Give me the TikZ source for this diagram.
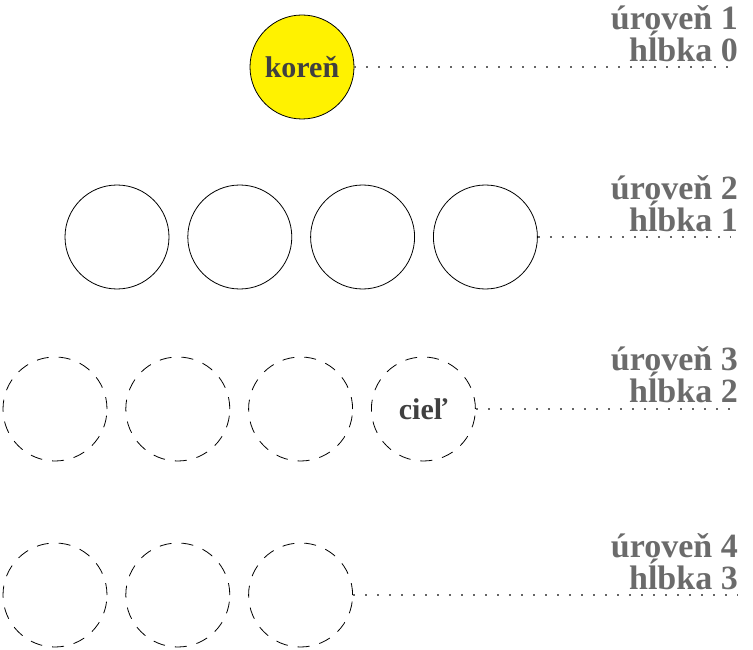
\documentclass[tikz,border=0pt]{standalone}
\usepackage{fontspec}
\setmainfont{Liberation Serif}
\usepackage{tikz}
\usetikzlibrary{positioning}

\begin{document}
\begin{tikzpicture}[
		x=1pt, y=1pt,
		node distance=18pt,                 % medzera medzi vrcholmi
		vrchol/.style={
			draw,
			circle,
			minimum size=104pt,
			inner sep=0pt,
			line width=0.8pt,
			font=\bfseries\fontsize{30}{30}\selectfont,
			text=black!75},
		novy/.style={vrchol, dash pattern=on 12pt off 10pt},
		uroven/.style={
			align=right,
			anchor=south east,
			inner sep=0pt,
			text=black!58,
			font=\bfseries\fontsize{34}{30}\selectfont},
		spoj/.style={black!60, line width=2pt, dash pattern=on 2pt off 10pt}
		]
		\useasboundingbox (0,0) rectangle (753,-650);
		
		% koren (hlbka 0)
		\node[vrchol, fill=yellow] (k) at (302,-67) {koreň};
		
		% hlbka 1
		\node[vrchol] (a1) at (117,-237) {};
		\node[vrchol] (a2) [right=of a1] {};
		\node[vrchol] (a3) [right=of a2] {};
		\node[vrchol] (a4) [right=of a3] {};
		
		% hlbka 2
		\node[novy] (b1) at (55,-409) {};
		\node[novy] (b2) [right=of b1] {};
		\node[novy] (b3) [right=of b2] {};
		\node[novy] (b4) [right=of b3] {cieľ};
		
		% hlbka 3
		\node[novy] (c1) at (55,-595) {};
		\node[novy] (c2) [right=of c1] {};
		\node[novy] (c3) [right=of c2] {};
		
		% konce bodkovanych ciar
		\coordinate (e1) at (730,-67);
		\coordinate (e2) at (730,-237);
		\coordinate (e3) at (738,-409);
		\coordinate (e4) at (738,-595);
		
		\draw[spoj] (k.east) -- (e1);
		\draw[spoj] (a4.east) -- (e2);
		\draw[spoj] (b4.east) -- (e3);
		\draw[spoj] (c3.east) -- (e4);
		
		% popisy urovni
		\node[uroven] (u1) at (738,-62) {úroveň 1\\hĺbka 0};
		\node[uroven] (u2) at (738,-232) {úroveň 2\\hĺbka 1};
		\node[uroven] (u3) at (738,-403) {úroveň 3\\hĺbka 2};
		\node[uroven] (u4) at (738,-590) {úroveň 4\\hĺbka 3};
		
	\end{tikzpicture}
\end{document}
